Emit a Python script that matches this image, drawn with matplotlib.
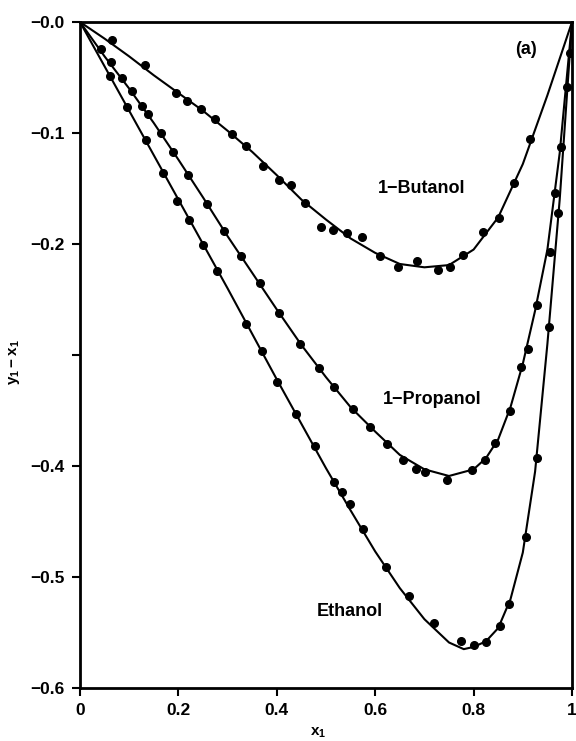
import matplotlib
matplotlib.use("Agg")
import matplotlib.pyplot as plt

plt.rcParams['font.family'] = ['Liberation Sans', 'DejaVu Sans']

# measured points (x1, y1-x1)
eth_x = [0.061, 0.095, 0.134, 0.169, 0.197, 0.222, 0.250, 0.278, 0.337, 0.370,
         0.400, 0.439, 0.478, 0.516, 0.533, 0.549, 0.575, 0.622, 0.669, 0.720,
         0.774, 0.801, 0.825, 0.854, 0.872, 0.907, 0.929, 0.953, 0.972, 0.990]
eth_y = [-0.049, -0.077, -0.106, -0.136, -0.161, -0.178, -0.201, -0.224, -0.272, -0.296,
         -0.324, -0.353, -0.382, -0.414, -0.423, -0.434, -0.457, -0.491, -0.517, -0.541,
         -0.558, -0.561, -0.559, -0.544, -0.524, -0.464, -0.393, -0.275, -0.172, -0.059]

prop_x = [0.042, 0.062, 0.086, 0.106, 0.127, 0.139, 0.164, 0.189, 0.220, 0.259,
          0.293, 0.327, 0.366, 0.404, 0.447, 0.486, 0.516, 0.555, 0.589, 0.624,
          0.656, 0.683, 0.701, 0.746, 0.797, 0.823, 0.843, 0.874, 0.896, 0.911,
          0.929, 0.955, 0.966, 0.978, 0.995]
prop_y = [-0.024, -0.036, -0.050, -0.062, -0.076, -0.083, -0.100, -0.117, -0.138, -0.164,
          -0.188, -0.211, -0.235, -0.262, -0.290, -0.312, -0.329, -0.349, -0.365, -0.380,
          -0.395, -0.403, -0.405, -0.413, -0.404, -0.395, -0.379, -0.350, -0.311, -0.295,
          -0.255, -0.207, -0.154, -0.113, -0.028]

but_x = [0.065, 0.132, 0.195, 0.218, 0.246, 0.274, 0.309, 0.337, 0.372, 0.404,
         0.428, 0.457, 0.490, 0.514, 0.543, 0.573, 0.610, 0.646, 0.685, 0.728,
         0.752, 0.779, 0.819, 0.852, 0.882, 0.915]
but_y = [-0.016, -0.039, -0.064, -0.071, -0.078, -0.087, -0.101, -0.112, -0.130, -0.142,
         -0.147, -0.163, -0.185, -0.187, -0.190, -0.194, -0.211, -0.221, -0.215, -0.223,
         -0.221, -0.210, -0.189, -0.177, -0.145, -0.105]

# correlated curves
eth_cx = [0.0, 0.05, 0.1, 0.15, 0.2, 0.25, 0.3, 0.35, 0.4, 0.45, 0.5, 0.55, 0.6,
          0.65, 0.7, 0.75, 0.78, 0.8, 0.825, 0.85, 0.875, 0.9, 0.925, 0.95, 0.975, 1.0]
eth_cy = [0.0, -0.040, -0.080, -0.120, -0.160, -0.200, -0.240, -0.281, -0.322, -0.362,
          -0.402, -0.440, -0.477, -0.510, -0.538, -0.559, -0.565, -0.563, -0.558, -0.546,
          -0.520, -0.478, -0.405, -0.290, -0.160, 0.0]

prop_cx = [0.0, 0.05, 0.1, 0.15, 0.2, 0.25, 0.3, 0.35, 0.4, 0.45, 0.5, 0.55, 0.6,
           0.65, 0.7, 0.75, 0.8, 0.825, 0.85, 0.875, 0.9, 0.925, 0.95, 0.975, 1.0]
prop_cy = [0.0, -0.031, -0.060, -0.091, -0.124, -0.158, -0.193, -0.226, -0.259, -0.291,
           -0.320, -0.347, -0.369, -0.390, -0.403, -0.409, -0.403, -0.393, -0.376, -0.347,
           -0.308, -0.260, -0.205, -0.118, 0.0]

but_cx = [0.0, 0.05, 0.1, 0.15, 0.2, 0.25, 0.3, 0.35, 0.4, 0.45, 0.5, 0.55, 0.6,
          0.65, 0.7, 0.75, 0.8, 0.85, 0.9, 0.95, 1.0]
but_cy = [0.0, -0.015, -0.031, -0.048, -0.064, -0.080, -0.098, -0.117, -0.138, -0.160,
          -0.178, -0.195, -0.208, -0.218, -0.221, -0.219, -0.205, -0.176, -0.128, -0.066, 0.0]

y_ticks = [0.0, -0.1, -0.2, -0.3, -0.4, -0.5, -0.6]
y_labels = ['\u22120.0', '\u22120.1', '\u22120.2', '', '\u22120.4', '\u22120.5', '\u22120.6']
x_ticks = [0, 0.2, 0.4, 0.6, 0.8, 1.0]
x_labels = ['0', '0.2', '0.4', '0.6', '0.8', '1']

fig = plt.figure(figsize=(5.76, 7.41), dpi=100)
ax = fig.add_axes([80 / 576, 1 - 688 / 741, 492 / 576, 666 / 741])

for cx, cy in [(eth_cx, eth_cy), (prop_cx, prop_cy), (but_cx, but_cy)]:
    ax.plot(cx, cy, color='black', lw=1.5)
for px, py in [(eth_x, eth_y), (prop_x, prop_y), (but_x, but_y)]:
    ax.plot(px, py, 'o', color='black', ms=5.5)

ax.set_xlim(0, 1)
ax.set_ylim(-0.6, 0)
ax.set_xticks(x_ticks)
ax.set_xticklabels(x_labels)
ax.set_yticks(y_ticks)
ax.set_yticklabels(y_labels)
ax.tick_params(direction='out', length=6, width=1.5, labelsize=12.5, pad=5)
for lab in ax.get_xticklabels() + ax.get_yticklabels():
    lab.set_fontweight('bold')
for sp in ax.spines.values():
    sp.set_linewidth(2)

ax.set_xlabel('$\\mathregular{x_1}$', fontsize=11, fontweight='bold')
ax.xaxis.set_label_coords(0.485, -0.056)
ax.set_ylabel('$\\mathregular{y_1 - x_1}$', fontsize=11, fontweight='bold')
ax.yaxis.set_label_coords(-0.118, 0.49)

ax.text(0.695, -0.150, '1\u2212Butanol', fontsize=13, fontweight='bold', ha='center', va='center')
ax.text(0.715, -0.340, '1\u2212Propanol', fontsize=13, fontweight='bold', ha='center', va='center')
ax.text(0.549, -0.531, 'Ethanol', fontsize=13, fontweight='bold', ha='center', va='center')
ax.text(0.906, -0.025, '(a)', fontsize=13, fontweight='bold', ha='center', va='center')

fig.savefig('out.png', dpi=100)
